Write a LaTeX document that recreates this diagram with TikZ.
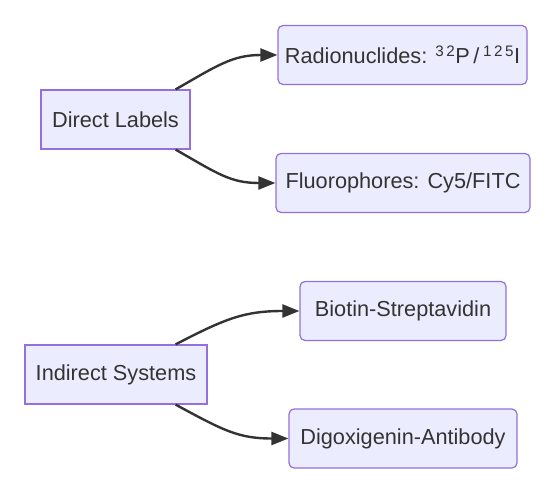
\documentclass[tikz,border=0pt]{standalone}
\usepackage{fontspec}
\setmainfont{Liberation Sans}
\usepackage{tikz}
\usetikzlibrary{arrows.meta}

\definecolor{boxfill}{HTML}{ECECFF}
\definecolor{boxline}{HTML}{9370DB}
\definecolor{inkgray}{HTML}{333333}

\begin{document}
\begin{tikzpicture}[x=1bp, y=-1bp,
	group/.style={draw=boxline, fill=boxfill, line width=1.2bp, text=inkgray,
		minimum height=59bp, inner xsep=6bp,
		font=\fontsize{21.8}{26}\selectfont},
	method/.style={group, rounded corners=5bp},
	link/.style={draw=inkgray, line width=2.4bp,
		-{Triangle[length=17bp, width=13bp]}}]
	\useasboundingbox (0,0) rectangle (552,488);

	% Direct labels
	\node[group, minimum width=149bp] (dl) at (115.5,119.5) {Direct Labels};
	\node[method, minimum width=249bp] (rad) at (402.5,55) {Radionuclides: \textsuperscript{3\,2}P\,/\,\textsuperscript{1\,2\,5}I};
	\node[method, minimum width=254bp] (flu) at (403,183) {Fluorophores: Cy5/FITC};

	% Indirect systems
	\node[group, minimum width=182bp] (ind) at (116,374.5) {Indirect Systems};
	\node[method, minimum width=206bp] (bio) at (403,311) {Biotin-Streptavidin};
	\node[method, minimum width=228bp] (dig) at (403,438.5) {Digoxigenin-Antibody};

	% Edges
	\draw[link] ([xshift=-15bp]dl.north east) .. controls +(42,-24) and +(-45,0) .. (rad.west);
	\draw[link] ([xshift=-15bp]dl.south east) .. controls +(42,24) and +(-45,0) .. (flu.west);
	\draw[link] ([xshift=-32bp]ind.north east) .. controls +(50,-26) and +(-55,0) .. (bio.west);
	\draw[link] ([xshift=-32bp]ind.south east) .. controls +(48,26) and +(-50,0) .. (dig.west);
\end{tikzpicture}
\end{document}
